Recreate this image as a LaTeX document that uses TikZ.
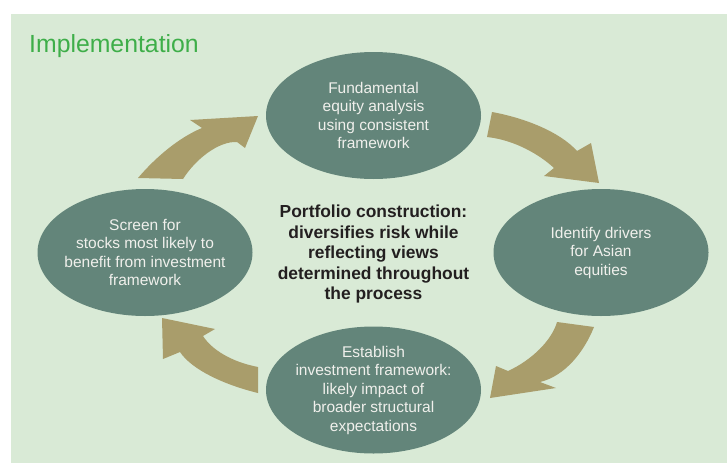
\documentclass[tikz,border=0pt]{standalone}
\usepackage{fontspec}
\setmainfont{Liberation Sans}
\usepackage{tikz}
\usepackage{xcolor}
\usetikzlibrary{shapes.geometric}
\definecolor{panelgreen}{HTML}{D9EAD6}
\definecolor{stagegreen}{HTML}{63857A}
\definecolor{arrowtan}{HTML}{A99D6B}
\definecolor{titlegreen}{HTML}{3EAE49}
\definecolor{stagetext}{HTML}{F0F0EC}
\definecolor{coretext}{HTML}{231F20}

\tikzset{
  stage/.style={ellipse, fill=stagegreen, draw=none, inner sep=-30pt,
    minimum width=215pt, minimum height=127pt, align=center,
    text=stagetext, font=\fontsize{15.5}{18.5}\selectfont},
  cycarrow/.style={fill=arrowtan, draw=none}
}

\begin{document}
\begin{tikzpicture}[x=1pt, y=-1pt]
    \useasboundingbox (0,0) rectangle (727,463);
    % ---- PANEL ----
    \fill[white] (0,0) rectangle (727,463);
    \fill[panelgreen] (11,14) rectangle (727,463);
    \node[anchor=base west, inner sep=0pt, text=titlegreen,
          font=\fontsize{24.8}{28}\selectfont] (title) at (29,52) {Implementation};

    % ---- ARROWS ----
    % screen -> fundamental
    \fill[cycarrow] (138,178) .. controls (155,158) and (178,138) .. (202,128)
        -- (190,120) -- (258,116) -- (245,148) -- (237,142)
        .. controls (218,141) and (195,160) .. (183,179) -- cycle;
    % fundamental -> drivers
    \fill[cycarrow] (492,112) .. controls (525,118) and (560,132) .. (577,151)
        -- (591,143) -- (599,183) -- (544,176) -- (554,168)
        .. controls (540,155) and (515,140) .. (487,137) -- cycle;
    % drivers -> framework
    \fill[cycarrow] (594,327) .. controls (584,352) and (565,376) .. (540,382)
        -- (556,388) -- (490,398) -- (496,366) -- (508,371)
        .. controls (532,360) and (552,340) .. (557,322) -- cycle;
    % framework -> screen
    \fill[cycarrow] (258,393) .. controls (225,385) and (192,370) .. (180,352)
        -- (163,359) -- (162,318) -- (215,329) -- (203,336)
        .. controls (212,350) and (232,362) .. (258,367) -- cycle;

    % ---- STAGES ----
    \node[stage] (fundamental) at (373.5,115.5)
        {Fundamental\\equity analysis\\using consistent\\framework};
    \node[stage] (drivers) at (601,252.5)
        {Identify drivers\\for Asian\\equities};
    \node[stage] (framework) at (373.5,390)
        {Establish\\investment framework:\\likely impact of\\broader structural\\expectations};
    \node[stage] (screen) at (145,252.5)
        {Screen for\\stocks most likely to\\benefit from investment\\framework};

    % ---- CENTRE ----
    \node[align=center, text=coretext, inner sep=0pt,
          font=\bfseries\fontsize{17.4}{20.5}\selectfont] (portfolio) at (373.5,254)
        {Portfolio construction:\\diversifies risk while\\reflecting views\\determined throughout\\the process};
\end{tikzpicture}
\end{document}
